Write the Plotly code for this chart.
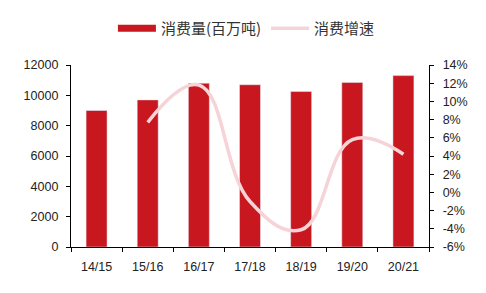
import plotly.graph_objects as go

categories = ["14/15", "15/16", "16/17", "17/18", "18/19", "19/20", "20/21"]
consumption = [9000, 9700, 10800, 10700, 10250, 10850, 11300]
growth_cats = ["15/16", "16/17", "17/18", "18/19", "19/20", "20/21"]
growth = [7.7, 11.8, -1.0, -4.1, 5.8, 4.2]

left_ticks = [0, 2000, 4000, 6000, 8000, 10000, 12000]
right_ticks = [-6, -4, -2, 0, 2, 4, 6, 8, 10, 12, 14]

RED = "#C8171F"
PINK = "#F6D3D6"
FONT = "Liberation Sans, Arial, Noto Sans CJK SC, sans-serif"
CJK = "Noto Sans CJK SC, sans-serif"

fig = go.Figure()
fig.add_trace(go.Bar(x=categories, y=consumption, marker_color=RED, width=0.41,
                     showlegend=False, name="消费量(百万吨)"))
# legend proxy for the bar series (wide swatch like the reference)
fig.add_trace(go.Scatter(x=[None], y=[None], mode="lines", line=dict(color=RED, width=7),
                         name="消费量(百万吨)"))
fig.add_trace(go.Scatter(x=growth_cats, y=growth, yaxis="y2", mode="lines",
                         line=dict(color=PINK, width=3.5, shape="spline", smoothing=1.2),
                         name="消费增速"))

fig.update_layout(
    width=486, height=293,
    margin=dict(l=71, r=57, t=62, b=46),
    paper_bgcolor="white", plot_bgcolor="white",
    font=dict(family=FONT, size=12.5, color="#222"),
    bargap=0.59,
    legend=dict(orientation="h", x=0.49, xanchor="center", y=1.2, yanchor="middle",
                font=dict(family=CJK, size=15, color="#333"), itemwidth=38,
                traceorder="normal"),
    xaxis=dict(type="category", categoryorder="array", categoryarray=categories,
               showline=True, linecolor="black", linewidth=1.3,
               ticks="outside", ticklen=4, tickcolor="black", tickson="boundaries",
               showgrid=False, range=[-0.5, 6.5], ticklabelstandoff=8),
    yaxis=dict(range=[0, 12000], tickvals=left_ticks,
               ticktext=[str(v) for v in left_ticks], showline=True, linecolor="black",
               linewidth=1.3, ticks="outside", ticklen=4, tickcolor="black",
               showgrid=False, zeroline=False, ticklabelstandoff=5),
    yaxis2=dict(range=[-6, 14], tickvals=right_ticks,
                ticktext=[f"{v}%" for v in right_ticks], overlaying="y", side="right",
                showline=True, linecolor="black", linewidth=1.3, ticks="outside",
                ticklen=4, tickcolor="black", showgrid=False, zeroline=False,
                ticklabelstandoff=6),
)

fig.write_html("out.html")
